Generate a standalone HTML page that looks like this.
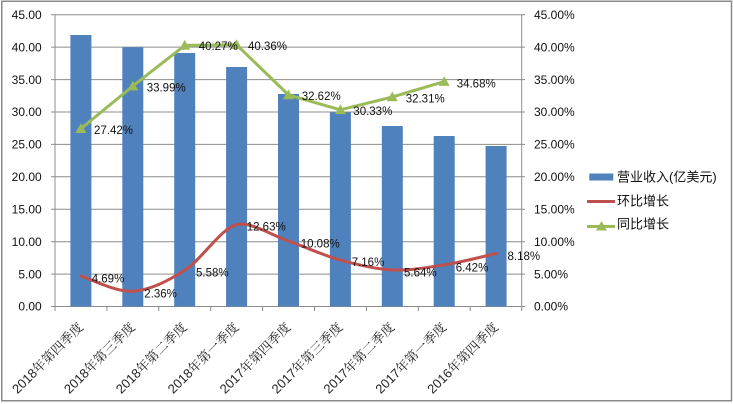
<!DOCTYPE html>
<html><head><meta charset="utf-8"><style>
html,body{margin:0;padding:0;background:#fff;}
svg{display:block;}
.ax{font-family:"Liberation Sans","DejaVu Sans",sans-serif;font-size:12px;fill:#111;}
.dl{font-family:"Liberation Sans","DejaVu Sans",sans-serif;font-size:11.5px;fill:#111;}
.xl{font-family:"Liberation Sans","Noto Serif CJK SC",serif;font-size:13px;fill:#222;}
.lg{font-family:"Liberation Sans","Noto Sans CJK SC",sans-serif;font-size:13px;fill:#111;}
</style></head><body>
<svg width="733" height="404" viewBox="0 0 733 404" xmlns="http://www.w3.org/2000/svg">
<rect x="0" y="0" width="733" height="404" fill="#fff"/>
<rect x="1.75" y="1.25" width="729.75" height="399.5" fill="none" stroke="#8a8a8a" stroke-width="1.5"/>
<g stroke="#8c8c8c" stroke-width="1">
<line x1="51" y1="14.7" x2="525" y2="14.7"/>
<line x1="51" y1="47.1" x2="525" y2="47.1"/>
<line x1="51" y1="79.6" x2="525" y2="79.6"/>
<line x1="51" y1="112.0" x2="525" y2="112.0"/>
<line x1="51" y1="144.4" x2="525" y2="144.4"/>
<line x1="51" y1="176.8" x2="525" y2="176.8"/>
<line x1="51" y1="209.2" x2="525" y2="209.2"/>
<line x1="51" y1="241.7" x2="525" y2="241.7"/>
<line x1="51" y1="274.1" x2="525" y2="274.1"/>
<line x1="51" y1="306.5" x2="525" y2="306.5"/>
<line x1="55" y1="14.7" x2="55" y2="311"/>
<line x1="521.7" y1="14.7" x2="521.7" y2="311"/>
<line x1="106.9" y1="306.5" x2="106.9" y2="311"/>
<line x1="158.8" y1="306.5" x2="158.8" y2="311"/>
<line x1="210.7" y1="306.5" x2="210.7" y2="311"/>
<line x1="262.6" y1="306.5" x2="262.6" y2="311"/>
<line x1="314.5" y1="306.5" x2="314.5" y2="311"/>
<line x1="366.4" y1="306.5" x2="366.4" y2="311"/>
<line x1="418.3" y1="306.5" x2="418.3" y2="311"/>
<line x1="470.2" y1="306.5" x2="470.2" y2="311"/>
</g>
<g fill="#4F81BD">
<rect x="70.4" y="35" width="21" height="271.5"/>
<rect x="122.3" y="47.3" width="21" height="259.2"/>
<rect x="174.2" y="53" width="21" height="253.5"/>
<rect x="226.1" y="67" width="21" height="239.5"/>
<rect x="278" y="94" width="21" height="212.5"/>
<rect x="329.9" y="112.3" width="21" height="194.2"/>
<rect x="381.8" y="126" width="21" height="180.5"/>
<rect x="433.7" y="136" width="21" height="170.5"/>
<rect x="485.6" y="146" width="21" height="160.5"/>
</g>
<path d="M80.9,276.1 C89.55,278.62 115.5,292.17 132.8,291.2 C150.1,290.23 167.4,281.4 184.7,270.3 C202.0,259.2 221.3,228.0 236.6,224.6 C251.9,221.6 271.2,235.18 288.5,241.1 C305.8,247.02 323.1,255.3 340.4,260.1 C357.7,264.9 375.0,269.1 392.3,269.9 C409.6,270.7 426.9,267.63 444.2,264.9 C461.5,262.17 487.45,255.4 496.1,253.5" fill="none" stroke="#C0504D" stroke-width="3" stroke-linecap="round" stroke-linejoin="round"/>
<polyline points="80.9,128.7 132.8,86.1 184.7,45.4 236.6,44.8 288.5,95.0 340.4,109.8 392.3,97.0 444.2,81.6" fill="none" stroke="#9BBB59" stroke-width="3" stroke-linejoin="round"/>
<g fill="#9BBB59">
<polygon points="80.9,123.2 86.4,133 75.4,133"/>
<polygon points="132.8,80.6 138.3,90.4 127.3,90.4"/>
<polygon points="184.7,39.9 190.2,49.7 179.2,49.7"/>
<polygon points="236.6,39.3 242.1,49.1 231.1,49.1"/>
<polygon points="288.5,89.5 294,99.3 283,99.3"/>
<polygon points="340.4,104.3 345.9,114.1 334.9,114.1"/>
<polygon points="392.3,91.5 397.8,101.3 386.8,101.3"/>
<polygon points="444.2,76.1 449.7,85.9 438.7,85.9"/>
</g>
<g class="dl">
<text x="94" y="134">27.42%</text>
<text x="146.7" y="91.7">33.99%</text>
<text x="198.7" y="50">40.27%</text>
<text x="248" y="50">40.36%</text>
<text x="301.7" y="100">32.62%</text>
<text x="353.3" y="115">30.33%</text>
<text x="405.7" y="102.3">32.31%</text>
<text x="456.7" y="87.3">34.68%</text>
<text x="91.7" y="282.3">4.69%</text>
<text x="144.3" y="297.3">2.36%</text>
<text x="196" y="276.3">5.58%</text>
<text x="246.7" y="230.5">12.63%</text>
<text x="300.7" y="247.3">10.08%</text>
<text x="351.7" y="266">7.16%</text>
<text x="404" y="276.3">5.64%</text>
<text x="455.7" y="271.3">6.42%</text>
<text x="507.5" y="260">8.18%</text>
</g>
<g class="ax" text-anchor="end">
<text x="41.7" y="19">45.00</text>
<text x="41.7" y="51.4">40.00</text>
<text x="41.7" y="83.8">35.00</text>
<text x="41.7" y="116.2">30.00</text>
<text x="41.7" y="148.6">25.00</text>
<text x="41.7" y="181">20.00</text>
<text x="41.7" y="213.4">15.00</text>
<text x="41.7" y="245.9">10.00</text>
<text x="41.7" y="278.3">5.00</text>
<text x="41.7" y="310.7">0.00</text>
</g>
<g class="ax">
<text x="534" y="19">45.00%</text>
<text x="534" y="51.4">40.00%</text>
<text x="534" y="83.8">35.00%</text>
<text x="534" y="116.2">30.00%</text>
<text x="534" y="148.6">25.00%</text>
<text x="534" y="181">20.00%</text>
<text x="534" y="213.4">15.00%</text>
<text x="534" y="245.9">10.00%</text>
<text x="534" y="278.3">5.00%</text>
<text x="534" y="310.7">0.00%</text>
</g>
<g class="xl" text-anchor="end">
<text transform="translate(83.9,328) rotate(-45)">2018年第四季度</text>
<text transform="translate(135.8,328) rotate(-45)">2018年第三季度</text>
<text transform="translate(187.7,328) rotate(-45)">2018年第二季度</text>
<text transform="translate(239.6,328) rotate(-45)">2018年第一季度</text>
<text transform="translate(291.5,328) rotate(-45)">2017年第四季度</text>
<text transform="translate(343.4,328) rotate(-45)">2017年第三季度</text>
<text transform="translate(395.3,328) rotate(-45)">2017年第二季度</text>
<text transform="translate(447.2,328) rotate(-45)">2017年第一季度</text>
<text transform="translate(499.1,328) rotate(-45)">2016年第四季度</text>
</g>
<rect x="589.3" y="173.5" width="24" height="7" fill="#4F81BD"/>
<text class="lg" x="617" y="181.3">营业收入(亿美元)</text>
<line x1="587" y1="201.5" x2="615" y2="201.5" stroke="#C0504D" stroke-width="3"/>
<text class="lg" x="617" y="205.5">环比增长</text>
<line x1="587" y1="226.5" x2="615" y2="226.5" stroke="#9BBB59" stroke-width="3"/>
<polygon points="601.5,221 607,230.5 596,230.5" fill="#9BBB59"/>
<text class="lg" x="617" y="228.3">同比增长</text>
</svg>
</body></html>
